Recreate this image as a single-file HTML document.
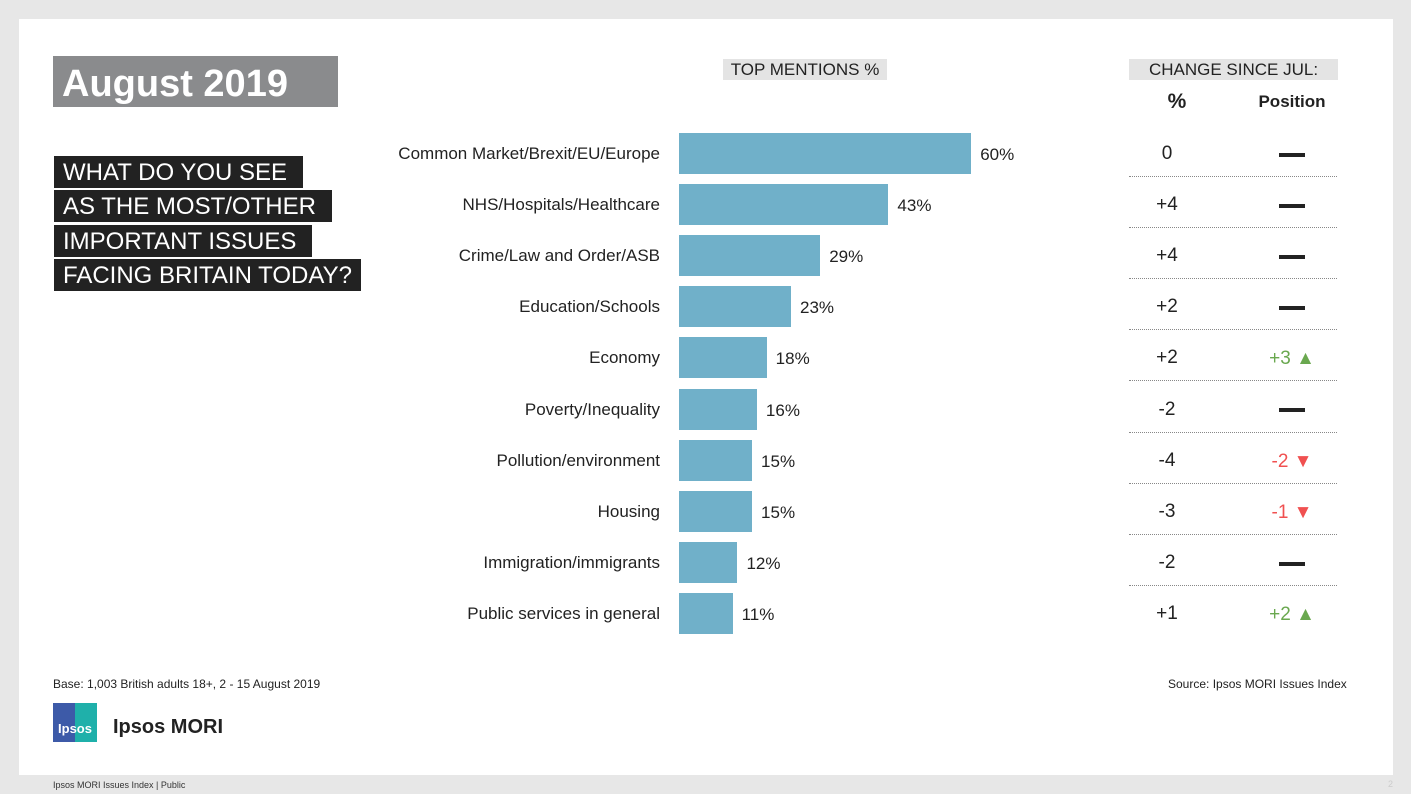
<!DOCTYPE html>
<html><head><meta charset="utf-8">
<style>
body{margin:0;width:1411px;height:794px;background:#e7e7e7;font-family:"Liberation Sans",sans-serif;position:relative;overflow:hidden;color:#222}
.a{position:absolute;white-space:nowrap}
#panel{left:19px;top:19px;width:1374px;height:756px;background:#fff}
.q{left:54px;height:32px;background:#222;color:#fff;font-size:24px;line-height:33px;padding:0 9px}
.lbl{font-size:17px;text-align:right;width:400px;left:260px}
.val{font-size:17px}
.dot{position:absolute;left:1129px;width:208px;border-top:1px dotted #888}
.pc{font-size:19px;width:80px;text-align:center;left:1127px}
.ps{font-size:19px;width:120px;text-align:center;left:1232px}
</style></head><body>
<div class="a" id="panel"></div>
<div class="a" style="left:53px;top:56px;width:285px;height:51px;background:#8a8b8d;color:#fff;font-weight:bold;font-size:38px;line-height:56px;padding-left:9px;box-sizing:border-box">August 2019</div>
<div class="a q" style="top:156px">WHAT DO YOU SEE&nbsp;</div>
<div class="a q" style="top:190px">AS THE MOST/OTHER&nbsp;</div>
<div class="a q" style="top:225px">IMPORTANT ISSUES&nbsp;</div>
<div class="a q" style="top:259px">FACING BRITAIN TODAY?</div>
<div class="a" style="left:723px;top:59px;width:164px;height:21px;background:#e4e4e4;font-size:17px;line-height:22px;text-align:center">TOP MENTIONS %</div>
<div class="a" style="left:1129px;top:59px;width:209px;height:21px;background:#e4e4e4;font-size:17px;line-height:22px;text-align:center">CHANGE SINCE JUL:</div>
<div class="a" style="left:1127px;top:90px;width:100px;text-align:center;font-weight:bold;font-size:21px">%</div>
<div class="a" style="left:1232px;top:92px;width:120px;text-align:center;font-weight:bold;font-size:17px">Position</div>
<div id="chart"></div>
<div class="a" style="left:53px;top:677px;font-size:12px">Base: 1,003 British adults 18+, 2 - 15 August 2019</div>
<div class="a" style="left:1168px;top:677px;font-size:12px">Source: Ipsos MORI Issues Index</div>
<div class="a" style="left:53px;top:703px;width:44px;height:39px;background:linear-gradient(90deg,#3d5aa8 50%,#1fb0aa 50%);color:#fff;font-size:13px;font-weight:bold;line-height:52px;text-align:center">Ipsos</div>
<div class="a" style="left:113px;top:716px;font-size:20px;font-weight:bold">Ipsos MORI</div>
<div class="a" style="left:53px;top:780px;font-size:9px;color:#333">Ipsos MORI Issues Index | Public</div>
<div class="a" style="left:1388px;top:779px;font-size:9px;color:#ccc">2</div>
<script>
const categories=["Common Market/Brexit/EU/Europe","NHS/Hospitals/Healthcare","Crime/Law and Order/ASB","Education/Schools","Economy","Poverty/Inequality","Pollution/environment","Housing","Immigration/immigrants","Public services in general"];
const values=[60,43,29,23,18,16,15,15,12,11];
const pctChange=["0","+4","+4","+2","+2","-2","-4","-3","-2","+1"];
const posChange=[0,0,0,0,3,0,-2,-1,0,2];
const c=document.getElementById('chart');
const x=v=>v*4.87, y=i=>153+i*51.1;
categories.forEach((cat,i)=>{
  const cy=y(i);
  let l=document.createElement('div');l.className='a lbl';l.style.top=(cy-9)+'px';l.textContent=cat;
  
  c.appendChild(l);
  let b=document.createElement('div');b.className='a';b.style.cssText=`left:679px;top:${cy-20}px;width:${x(values[i])}px;height:41px;background:#70b0c9`;
  
  c.appendChild(b);
  let v=document.createElement('div');v.className='a val';v.style.left=(679+x(values[i])+9)+'px';v.style.top=(cy-8)+'px';v.textContent=values[i]+'%';
  
  c.appendChild(v);
  let p=document.createElement('div');p.className='a pc';p.style.top=(cy-10)+'px';p.textContent=pctChange[i];
  
  c.appendChild(p);
  let s=document.createElement('div');s.className='a ps';s.style.top=(cy-9)+'px';
  const d=posChange[i];
  if(d===0)s.innerHTML='<span style="display:inline-block;width:26px;height:4px;background:#222;vertical-align:middle"></span>';
  else if(d>0)s.innerHTML=`<span style="color:#6aa84f">+${d} ▲</span>`;
  else s.innerHTML=`<span style="color:#f05050">${d} ▼</span>`;
  
  c.appendChild(s);
  if(i<categories.length-1){let dl=document.createElement('div');dl.className='dot';dl.style.top=(cy+23)+'px';
  
  c.appendChild(dl);}
});
</script>
</body></html>
